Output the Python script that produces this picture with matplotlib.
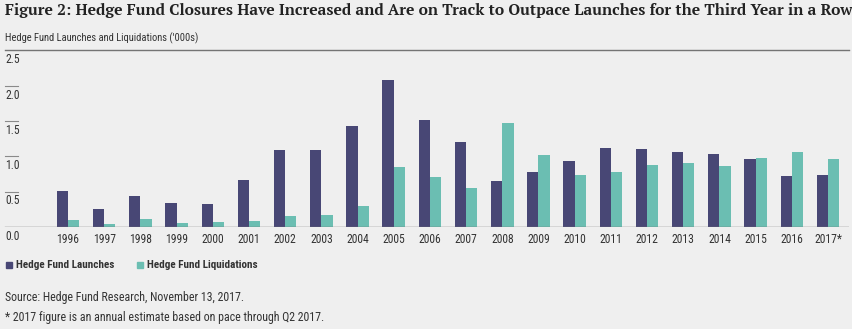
import matplotlib.pyplot as plt
import numpy as np

years = ['1996', '1997', '1998', '1999', '2000', '2001', '2002', '2003', '2004', '2005', '2006',
         '2007', '2008', '2009', '2010', '2011', '2012', '2013', '2014', '2015', '2016', '2017*']
launches = [0.51, 0.26, 0.44, 0.34, 0.33, 0.67, 1.09, 1.09, 1.43, 2.08, 1.51,
            1.20, 0.65, 0.78, 0.93, 1.12, 1.10, 1.06, 1.03, 0.96, 0.72, 0.73]
liquidations = [0.10, 0.04, 0.11, 0.06, 0.07, 0.085, 0.155, 0.175, 0.30, 0.85, 0.71,
                0.55, 1.47, 1.02, 0.73, 0.78, 0.88, 0.91, 0.86, 0.98, 1.06, 0.96]
yticks = [0.0, 0.5, 1.0, 1.5, 2.0, 2.5]

BG = '#efefef'
NAVY = '#484775'
TEAL = '#6bbeb2'
LINE = '#747474'
TXT = '#333333'
COND = ['Roboto Condensed', 'DejaVu Sans']

W, H = 853, 329
fig = plt.figure(figsize=(W / 100, H / 100), dpi=100, facecolor=BG)

# axes spans the whole width; xlim chosen so 1996 sits at ~68px, 2017 at ~828px
step = 760 / 21
AW = 849
ax = fig.add_axes([0, (H - 227) / H, AW / W, (227 - 50.5) / H])
ax.set_facecolor(BG)
x = np.arange(len(years))
bw = 0.31
ax.bar(x - bw / 2, launches, bw, color=NAVY, label='Hedge Fund Launches')
ax.bar(x + bw / 2, liquidations, bw, color=TEAL, label='Hedge Fund Liquidations')
ax.set_xlim(-68 / step, (AW - 68) / step)
ax.set_ylim(0, 2.5)
for s in ax.spines.values():
    s.set_visible(False)
ax.set_xticks([])
ax.set_yticks([])

# top and bottom rules across the width, short stubs for the inner ticks
ax.axhline(0, color=LINE, lw=1.0, xmin=5 / AW)
ax.axhline(2.5, color=LINE, lw=1.0, xmin=5 / AW, clip_on=False)
x0 = -68 / step
for v in yticks:
    if 0 < v < 2.5:
        ax.plot([x0 + 5 / step, x0 + 18 / step], [v, v], color='#8a8a8a', lw=0.8, clip_on=False)
    ax.annotate(f'{v:.1f}', xy=(5 / AW, v), xycoords=('axes fraction', 'data'),
                xytext=(0, -2), textcoords='offset points', ha='left', va='top',
                fontsize=8.4, color=TXT, family=COND)

for i, lab in enumerate(years):
    ax.annotate(lab, xy=(i, 0), xytext=(0, -4), textcoords='offset points',
                ha='center', va='top', fontsize=8.4, color=TXT, family=COND, annotation_clip=False)

title = fig.text(5 / W, 1 - 11 / H,
                 'Figure 2: Hedge Fund Closures Have Increased and Are on Track to Outpace Launches for the Third Year in a Row',
                 ha='left', va='center', fontsize=10, fontweight='bold', family='PT Serif', color='#222222')
# scale the title so it runs to the right edge
r = fig.canvas.get_renderer()
tw = title.get_window_extent(r).width
title.set_fontsize(10 * 842 / tw)

fig.text(5 / W, 1 - 38 / H, "Hedge Fund Launches and Liquidations ('000s)",
         ha='left', va='center', fontsize=7.6, color=TXT, family=COND)

# legend drawn by hand as square markers + bold labels
for px, col, lab in [(6, NAVY, 'Hedge Fund Launches'), (137, TEAL, 'Hedge Fund Liquidations')]:
    fig.patches.append(plt.Rectangle((px / W, 1 - 268 / H), 6 / W, 6 / H, color=col,
                                     transform=fig.transFigure, figure=fig))
    fig.text((px + 10) / W, 1 - 264.5 / H, lab, ha='left', va='center', fontsize=8,
             fontweight='bold', color=TXT, family=COND)

fig.text(5 / W, 1 - 298 / H, 'Source: Hedge Fund Research, November 13, 2017.',
         ha='left', va='center', fontsize=8.6, color=TXT, family=COND)
fig.text(5 / W, 1 - 318 / H, '* 2017 figure is an annual estimate based on pace through Q2 2017.',
         ha='left', va='center', fontsize=8.6, color=TXT, family=COND)

fig.savefig('out.png', dpi=100, facecolor=BG)
